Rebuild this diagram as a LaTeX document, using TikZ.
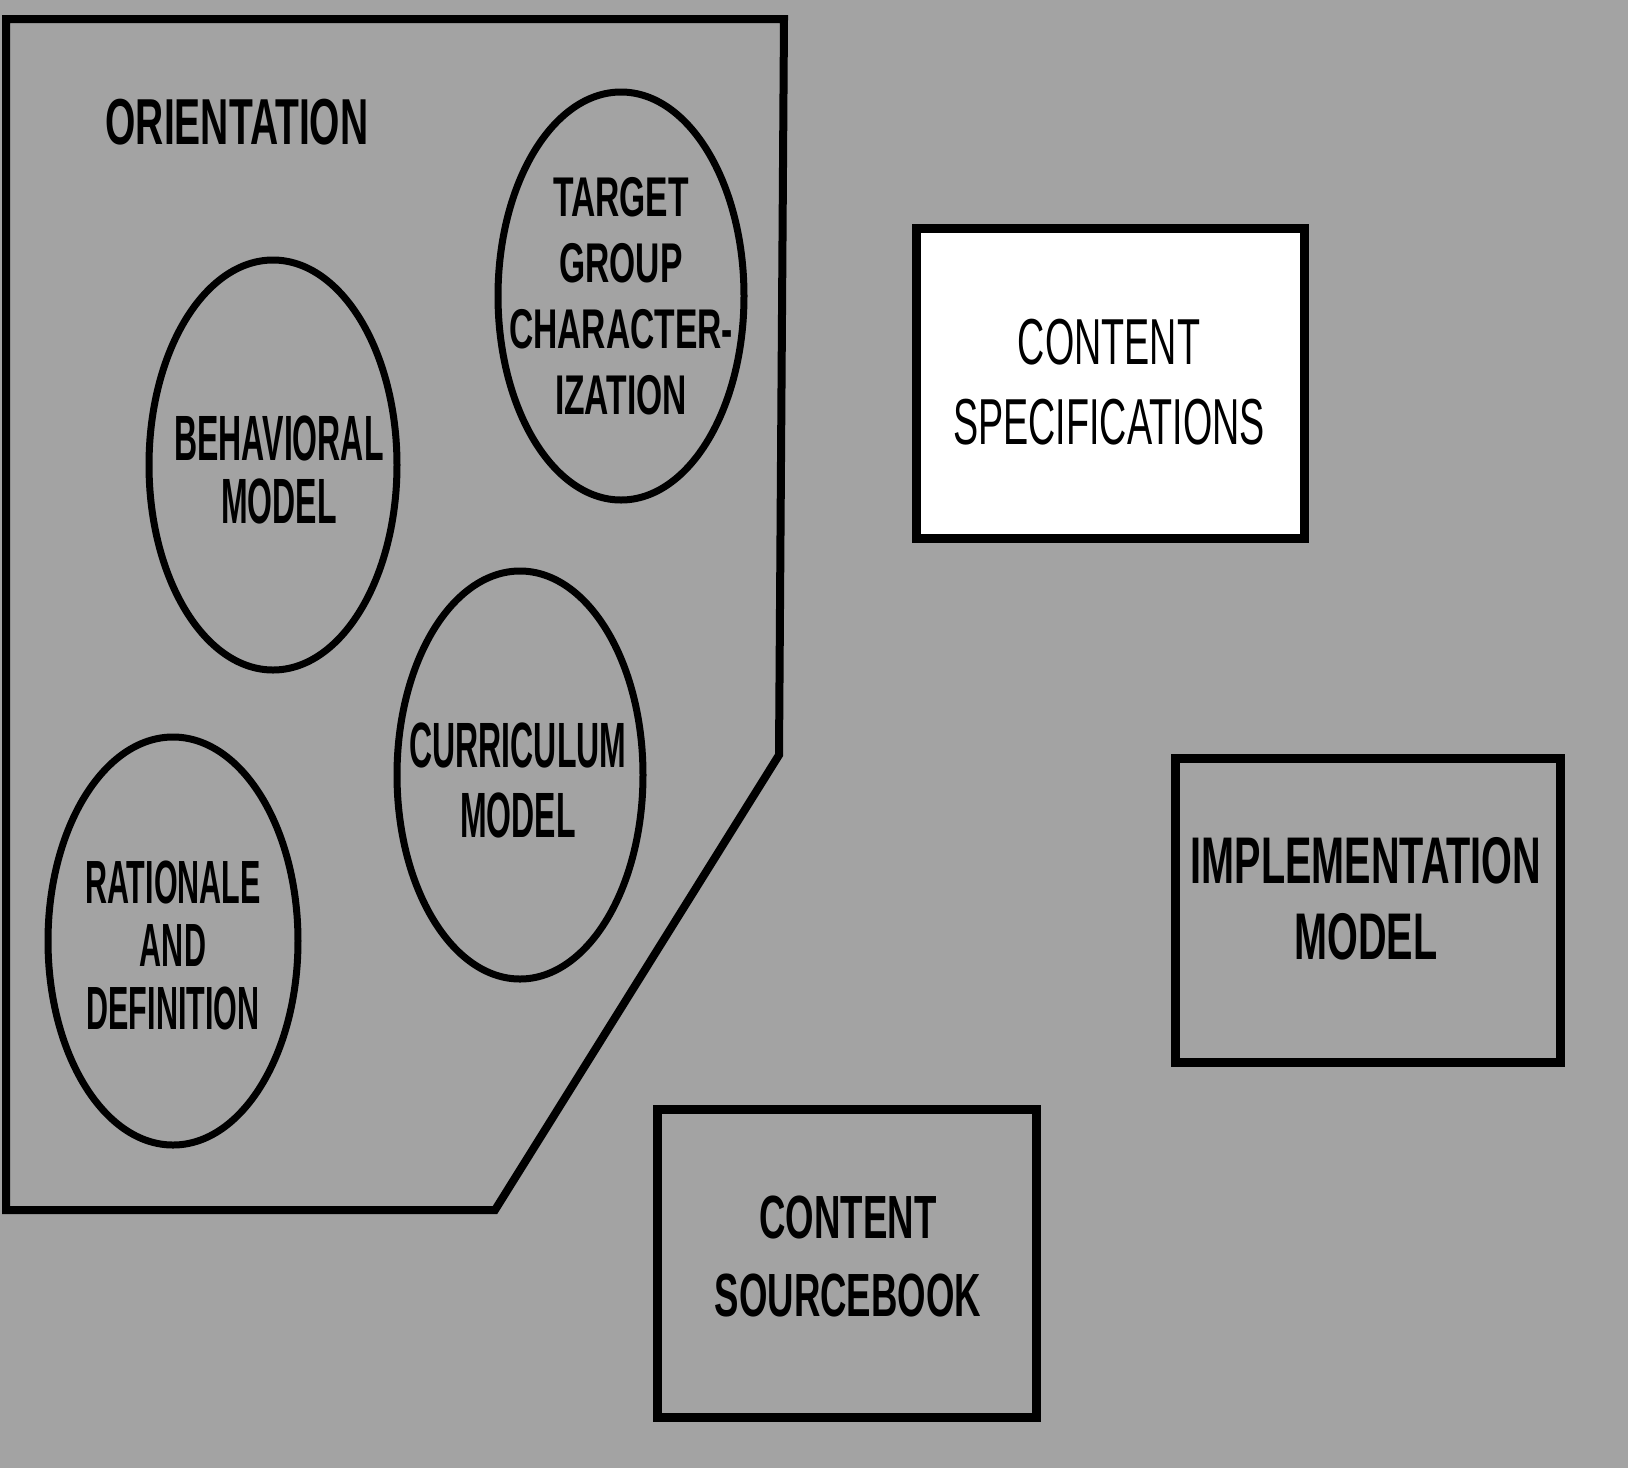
\documentclass[tikz,border=0pt]{standalone}
\usepackage{fontspec}
\setmainfont{Liberation Sans}
\newfontfamily\fA{Liberation Sans}[FakeStretch=0.60]
\newfontfamily\fB{Liberation Sans}[FakeStretch=0.50]
\newfontfamily\fC{Liberation Sans}[FakeStretch=0.58]
\usetikzlibrary{shapes.geometric}
\definecolor{halftone}{gray}{0.64}
\begin{document}
\begin{tikzpicture}[x=1pt,y=-1pt,
  outline/.style={draw=black,line width=8pt},
  bubble/.style={ellipse,draw=black,line width=7pt,inner sep=0pt},
  panel/.style={rectangle,draw=black,line width=9pt,inner sep=0pt},
  lbl/.style={inner sep=0pt,align=center,text=black}]
\fill[halftone] (0,0) rectangle (1628,1468);
\useasboundingbox (0,0) rectangle (1628,1468);

% orientation block
\coordinate (o1) at (6,19);
\coordinate (o2) at (784,19);
\coordinate (o3) at (779,755);
\coordinate (o4) at (495,1210);
\coordinate (o5) at (6,1210);
\draw[outline] (o1) -- (o2) -- (o3) -- (o4) -- (o5) -- cycle;
\node[lbl,font=\fA\bfseries\fontsize{65}{70}\selectfont] (orient) at (237,122) {ORIENTATION};

% the four component ellipses
\node[bubble,minimum width=246pt,minimum height=408pt] (target) at (621,296) {};
\node[lbl,font=\fA\bfseries\fontsize{56}{66}\selectfont] (targettxt) at (target.center) {TARGET\\GROUP\\CHARACTER-\\IZATION};

\node[bubble,minimum width=248pt,minimum height=410pt] (behav) at (273,465) {};
\node[lbl,font=\fB\bfseries\fontsize{64}{63}\selectfont] (behavtxt) at (279,470) {BEHAVIORAL\\MODEL};

\node[bubble,minimum width=246pt,minimum height=408pt] (curric) at (520,775) {};
\node[lbl,font=\fB\bfseries\fontsize{64}{70}\selectfont] (currictxt) at (518,780) {CURRICULUM\\MODEL};

\node[bubble,minimum width=250pt,minimum height=408pt] (ration) at (173,941) {};
\node[lbl,font=\fB\bfseries\fontsize{61}{63}\selectfont] (rationtxt) at (173,945) {RATIONALE\\AND\\DEFINITION};

% right-hand boxes
\node[panel,fill=white,minimum width=388pt,minimum height=310pt] (spec) at (1110,383) {};
\node[lbl,font=\fC\fontsize{65}{80}\selectfont] (spectxt) at (1109,382) {CONTENT\\SPECIFICATIONS};

\node[panel,minimum width=385pt,minimum height=304pt] (impl) at (1367.5,910) {};
\node[lbl,font=\fA\bfseries\fontsize{66}{76}\selectfont] (impltxt) at (1366,899) {IMPLEMENTATION\\MODEL};

\node[panel,minimum width=379pt,minimum height=308pt] (source) at (846.5,1263) {};
\node[lbl,font=\fA\bfseries\fontsize{61}{78}\selectfont] (sourcetxt) at (848,1256) {CONTENT\\SOURCEBOOK};
\end{tikzpicture}
\end{document}
